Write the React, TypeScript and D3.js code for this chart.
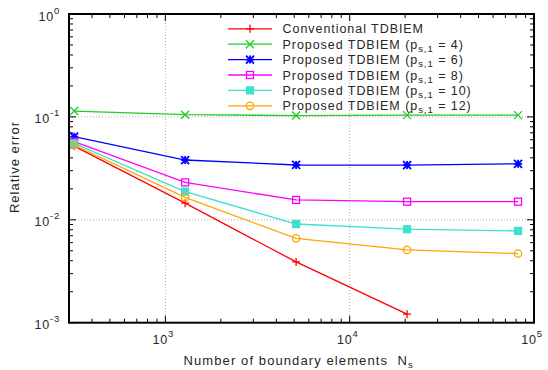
import React from "react";
import * as d3 from "d3";

const Ns = [320, 1280, 5120, 20480, 81920];
const conventional = [0.052, 0.0145, 0.0039, 0.00121];
const p4 = [0.114, 0.105, 0.103, 0.104, 0.104];
const p6 = [0.0643, 0.0381, 0.0341, 0.034, 0.035];
const p8 = [0.0574, 0.0231, 0.0156, 0.015, 0.015];
const p10 = [0.0553, 0.0188, 0.0091, 0.0081, 0.0078];
const p12 = [0.0533, 0.0165, 0.0066, 0.0051, 0.0047];

const seriesNames = ["Conventional TDBIEM", "Proposed TDBIEM", "Proposed TDBIEM", "Proposed TDBIEM", "Proposed TDBIEM", "Proposed TDBIEM"];
const seriesP = [null, "4", "6", "8", "10", "12"];
const seriesValues = [conventional, p4, p6, p8, p10, p12];
const seriesColors = ["#ff0000", "#22cc22", "#0000ff", "#ff00ff", "#40e0d0", "#ffa500"];
const seriesMarkers = ["plus", "cross", "star", "square", "fsquare", "circle"];

const xTickExps = [3, 4, 5];
const yTickExps = [0, -1, -2, -3];

const W = 548, H = 370;
const L = 69, R = 534, T = 14, B = 322.7;
const FONT = "'Liberation Sans', Arial, Helvetica, sans-serif";

function Marker({ type, x, y, color }: { type: string; x: number; y: number; color: string }) {
  const s = 4;
  const sw = 1.3;
  if (type === "plus")
    return <path d={`M${x - s},${y}H${x + s}M${x},${y - s}V${y + s}`} stroke={color} strokeWidth={sw} fill="none" />;
  if (type === "cross")
    return <path d={`M${x - s},${y - s}L${x + s},${y + s}M${x - s},${y + s}L${x + s},${y - s}`} stroke={color} strokeWidth={sw} fill="none" />;
  if (type === "star")
    return (
      <path
        d={`M${x - s},${y}H${x + s}M${x},${y - s}V${y + s}M${x - s},${y - s}L${x + s},${y + s}M${x - s},${y + s}L${x + s},${y - s}`}
        stroke={color}
        strokeWidth={1.8}
        fill="none"
      />
    );
  if (type === "square")
    return <rect x={x - s + 0.5} y={y - s + 0.5} width={2 * s - 1} height={2 * s - 1} stroke={color} strokeWidth={sw} fill="none" />;
  if (type === "fsquare")
    return <rect x={x - s + 0.5} y={y - s + 0.5} width={2 * s - 1} height={2 * s - 1} stroke={color} strokeWidth={sw} fill={color} />;
  return <circle cx={x} cy={y} r={s - 0.3} stroke={color} strokeWidth={sw} fill="none" />;
}

export default function App() {
  const x = d3.scaleLog().domain([300, 1e5]).range([L, R]);
  const y = d3.scaleLog().domain([1e-3, 1]).range([B, T]);
  const line = d3
    .line<[number, number]>()
    .x((d) => x(d[0]))
    .y((d) => y(d[1]));

  const xMinor: number[] = [];
  for (let e = 2; e <= 4; e++) for (let m = 1; m <= 9; m++) {
    const v = m * Math.pow(10, e);
    if (v >= 300 && v <= 1e5) xMinor.push(v);
  }
  xMinor.push(1e5);
  const yMinor: number[] = [];
  for (let e = -3; e <= -1; e++) for (let m = 1; m <= 9; m++) yMinor.push(m * Math.pow(10, e));
  yMinor.push(1);

  const legendY0 = 28.8;
  const legendDy = 15.4;
  const txt = "#262626";

  return (
    <svg width={W} height={H} style={{ position: "absolute", left: 0, top: 0, background: "#fff" }} fontFamily={FONT}>
      <rect width={W} height={H} fill="#fff" />
      {/* grid */}
      {xTickExps.filter((e) => e < 5).map((e) => (
        <line key={"gx" + e} x1={x(Math.pow(10, e))} x2={x(Math.pow(10, e))} y1={T} y2={B} stroke="#999" strokeWidth={0.8} strokeDasharray="1,2" />
      ))}
      {yTickExps.filter((e) => e < 0 && e > -3).map((e) => (
        <line key={"gy" + e} x1={L} x2={R} y1={y(Math.pow(10, e))} y2={y(Math.pow(10, e))} stroke="#999" strokeWidth={0.8} strokeDasharray="1,2" />
      ))}
      {/* ticks */}
      {xMinor.map((v, i) => {
        const major = Math.abs(Math.log10(v) - Math.round(Math.log10(v))) < 1e-9;
        const len = major ? 7 : 4;
        return (
          <g key={"xt" + i}>
            <line x1={x(v)} x2={x(v)} y1={B} y2={B - len} stroke="#000" strokeWidth={1} />
            <line x1={x(v)} x2={x(v)} y1={T} y2={T + len} stroke="#000" strokeWidth={1} />
          </g>
        );
      })}
      {yMinor.map((v, i) => {
        const major = Math.abs(Math.log10(v) - Math.round(Math.log10(v))) < 1e-9;
        const len = major ? 7 : 4;
        return (
          <g key={"yt" + i}>
            <line x1={L} x2={L + len} y1={y(v)} y2={y(v)} stroke="#000" strokeWidth={1} />
            <line x1={R} x2={R - len} y1={y(v)} y2={y(v)} stroke="#000" strokeWidth={1} />
          </g>
        );
      })}
      {/* series */}
      {seriesValues.map((vals, si) => {
        const pts: [number, number][] = vals.map((v, i) => [Ns[i], v]);
        return (
          <g key={"s" + si}>
            <path d={line(pts) || ""} stroke={seriesColors[si]} strokeWidth={1.3} fill="none" />
            {pts.map((p, i) => (
              <Marker key={i} type={seriesMarkers[si]} x={x(p[0])} y={y(p[1])} color={seriesColors[si]} />
            ))}
          </g>
        );
      })}
      {/* frame */}
      <rect x={L} y={T} width={R - L} height={B - T} fill="none" stroke="#000" strokeWidth={2} />
      {/* x tick labels */}
      {xTickExps.map((e) => (
        <text key={"xl" + e} x={x(Math.pow(10, e)) - 2} y={344} textAnchor="middle" fontSize={12.5} letterSpacing={0.8} fill={txt}>
          10<tspan dy={-7} fontSize={9.5}>{e}</tspan>
        </text>
      ))}
      {/* y tick labels */}
      {yTickExps.map((e) => (
        <text key={"yl" + e} x={60} y={y(Math.pow(10, e)) + 6.5} textAnchor="end" fontSize={12.5} letterSpacing={0.8} fill={txt}>
          10<tspan dy={-7} fontSize={9.5}>{e === 0 ? "0" : "-" + Math.abs(e)}</tspan>
        </text>
      ))}
      {/* axis titles */}
      <text x={183.5} y={365} fontSize={13} letterSpacing={1.1} fill={txt}>
        {"Number of boundary elements\u00a0\u00a0N"}
        <tspan dy={3} fontSize={9.5}>s</tspan>
      </text>
      <text transform={`translate(19,${167}) rotate(-90)`} textAnchor="middle" fontSize={13} letterSpacing={1} fill={txt}>
        Relative error
      </text>
      {/* legend */}
      {seriesNames.map((name, si) => {
        const ly = legendY0 + si * legendDy;
        return (
          <g key={"lg" + si}>
            <line x1={228} x2={272} y1={ly} y2={ly} stroke={seriesColors[si]} strokeWidth={1.3} />
            <Marker type={seriesMarkers[si]} x={250} y={ly} color={seriesColors[si]} />
            <text x={282.5} y={ly + 4.6} fontSize={12.5} letterSpacing={0.95} fill={txt}>
              {name}
              {seriesP[si] !== null ? (
                <>
                  {" (p"}
                  <tspan dy={3} fontSize={9.5}>s,1</tspan>
                  <tspan dy={-3}>{" = " + seriesP[si] + ")"}</tspan>
                </>
              ) : null}
            </text>
          </g>
        );
      })}
    </svg>
  );
}
